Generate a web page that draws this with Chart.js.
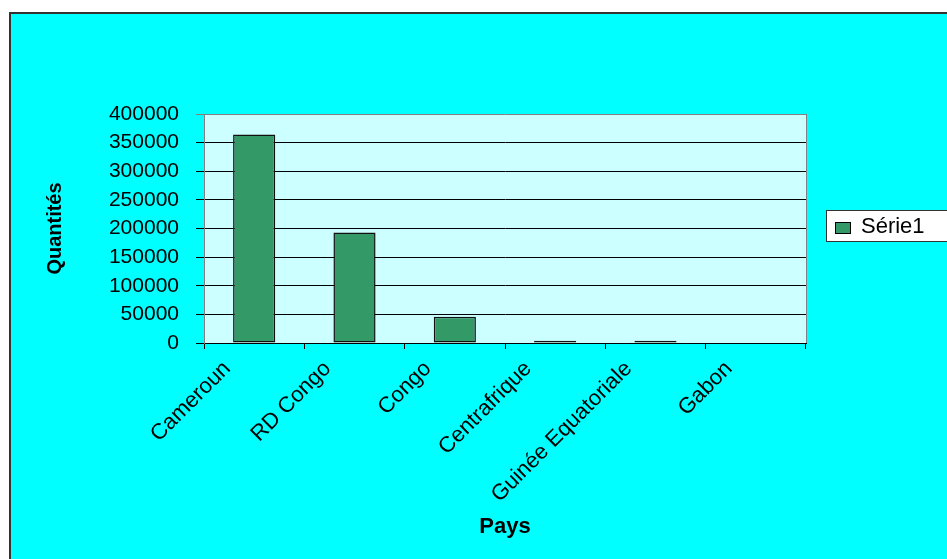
<!DOCTYPE html>
<html>
<head>
<meta charset="utf-8">
<script src="https://cdn.jsdelivr.net/npm/chart.js@4"></script>
<style>
  html, body { margin: 0; padding: 0; background: #fff; }
  #frame {
    position: absolute; left: 9px; top: 12px;
    width: 936px; height: 545px;
    background: #00ffff;
    border-left: 2px solid #333; border-top: 2px solid #333;
  }
  #chart { display: block; }
</style>
</head>
<body>
<div id="frame"><canvas id="chart" width="936" height="545"></canvas></div>
<script>
// data
const pays = ['Cameroun', 'RD Congo', 'Congo', 'Centrafrique', 'Guinée Equatoriale', 'Gabon'];
const quantites = [364000, 193000, 46000, 4000, 4000, 0];
const serieName = 'Série1';
const yMax = 400000;
const yStep = 50000;

const FONT = "'Liberation Sans', Arial, sans-serif";

// light plot background + grey right border
const plotArea = {
    id: 'plotArea',
    beforeDraw(chart) {
        const { ctx, chartArea: a } = chart;
        ctx.save();
        ctx.fillStyle = '#ccffff';
        ctx.fillRect(a.left, a.top, a.right - a.left, a.bottom - a.top);
        ctx.restore();
    },
    beforeDatasetsDraw(chart) {
        const { ctx, chartArea: a } = chart;
        ctx.save();
        ctx.strokeStyle = '#808080';
        ctx.lineWidth = 1;
        ctx.beginPath();
        ctx.moveTo(a.right + 0.5, a.top);
        ctx.lineTo(a.right + 0.5, a.bottom);
        ctx.stroke();
        ctx.restore();
    }
};

// boxed legend on the right, like Excel
const boxLegend = {
    id: 'boxLegend',
    afterDraw(chart) {
        const { ctx } = chart;
        const ds = chart.data.datasets[0];
        ctx.save();
        ctx.fillStyle = '#fff';
        ctx.fillRect(815, 196, 121, 32);
        ctx.strokeStyle = '#333';
        ctx.lineWidth = 1;
        ctx.strokeRect(815.5, 196.5, 121, 31);
        ctx.fillStyle = ds.backgroundColor;
        ctx.fillRect(824, 208, 16, 12);
        ctx.strokeStyle = '#000';
        ctx.strokeRect(824.5, 208.5, 15, 11);
        ctx.fillStyle = '#000';
        ctx.font = '22px ' + FONT;
        ctx.textBaseline = 'middle';
        ctx.fillText(ds.label, 850, 213);
        ctx.restore();
    }
};

new Chart(document.getElementById('chart'), {
    type: 'bar',
    data: {
        labels: pays,
        datasets: [{
            label: serieName,
            data: quantites,
            backgroundColor: '#339966',
            borderColor: '#111',
            borderWidth: 1.5,
            borderSkipped: false,
            barPercentage: 0.42,
            categoryPercentage: 1
        }]
    },
    options: {
        responsive: false,
        animation: false,
        devicePixelRatio: 1,
        layout: {
            padding: { top: 100, right: 141, bottom: 15, left: 28 }
        },
        plugins: {
            legend: { display: false },
            tooltip: { enabled: false }
        },
        scales: {
            x: {
                afterFit: s => { s.height = 201; },
                grid: {
                    drawOnChartArea: false,
                    tickLength: 6,
                    color: '#000',
                    offset: true
                },
                border: { color: '#000' },
                ticks: {
                    color: '#000',
                    font: { family: FONT, size: 22 },
                    minRotation: 45,
                    maxRotation: 45,
                    labelOffset: -27,
                    padding: 7
                },
                title: {
                    display: true,
                    text: 'Pays',
                    color: '#000',
                    font: { family: FONT, size: 22, weight: 'bold' }
                }
            },
            y: {
                min: 0,
                max: yMax,
                afterFit: s => { s.width = 165; },
                grid: {
                    color: c => (c.tick && c.tick.value === yMax ? '#808080' : '#000'),
                    tickLength: 8
                },
                border: { color: '#808080' },
                ticks: {
                    stepSize: yStep,
                    color: '#000',
                    padding: 17,
                    font: { family: FONT, size: 21 },
                    callback: v => String(v)
                },
                title: {
                    display: true,
                    text: 'Quantités',
                    color: '#000',
                    font: { family: FONT, size: 20, weight: 'bold' }
                }
            }
        }
    },
    plugins: [plotArea, boxLegend]
});
</script>
</body>
</html>
